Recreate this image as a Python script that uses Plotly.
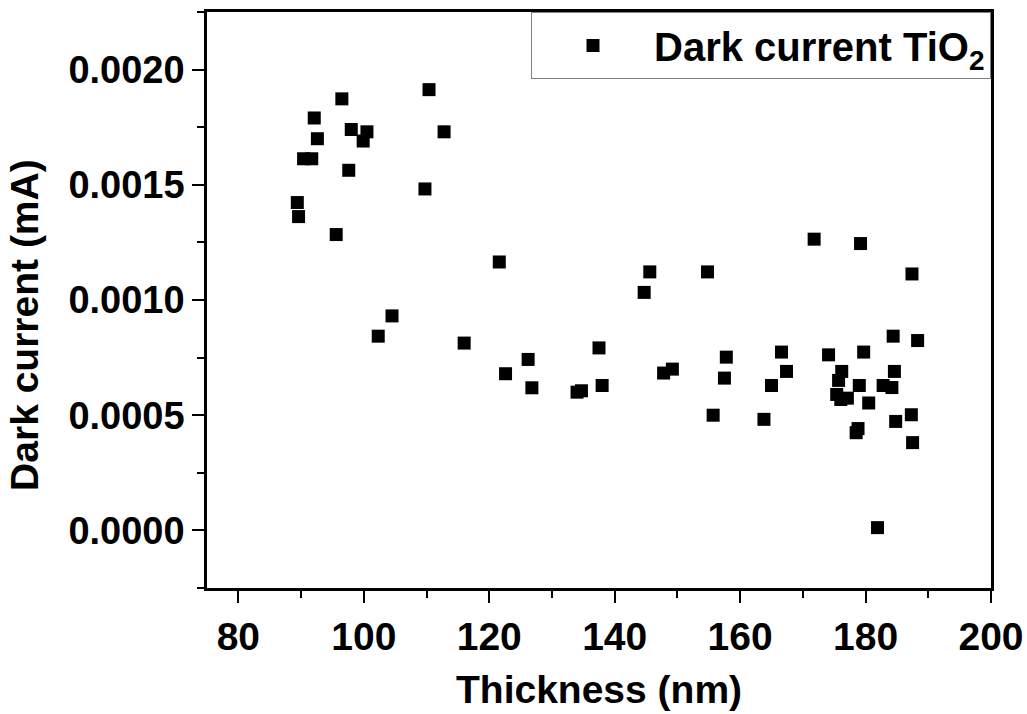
import plotly.graph_objects as go

# Thickness (nm) vs dark current (mA)
thickness = [89.4, 89.6, 90.4, 91.7, 92.1, 92.6, 95.6, 96.5, 97.6, 98.0,
             99.9, 100.5, 102.3, 104.5, 109.75, 110.4, 112.8, 116.0, 121.6, 122.6,
             126.2, 126.8, 134.0, 134.7, 137.5, 138.0, 144.7, 145.6, 147.8, 149.2,
             154.8, 155.7, 157.8, 157.5, 163.8, 165.0, 166.6, 167.4, 171.8, 174.1,
             175.4, 175.7, 176.05, 176.2, 177.1, 178.5, 178.8, 179.0, 179.2, 179.7,
             180.5, 181.9, 182.8, 184.2, 184.4, 184.6, 184.8, 187.3, 187.4, 187.5,
             188.3]
dark_current = [0.001423, 0.001362, 0.001613, 0.001613, 0.00179, 0.0017, 0.001284, 0.001873, 0.001563, 0.00174,
                0.00169, 0.00173, 0.000843, 0.000931, 0.001482, 0.001913, 0.00173, 0.000813, 0.001165, 0.00068,
                0.000742, 0.000619, 0.0006, 0.000606, 0.000792, 0.000629, 0.001033, 0.001122, 0.000683, 0.0007,
                0.001122, 0.0005, 0.000752, 0.000661, 0.000482, 0.000629, 0.000774, 0.00069, 0.001264, 0.000762,
                0.00059, 0.000651, 0.000568, 0.00069, 0.000574, 0.000424, 0.000442, 0.000629, 0.001245, 0.000774,
                0.000553, 0.000012, 0.000629, 0.00062, 0.000843, 0.00069, 0.000473, 0.000502, 0.001113, 0.000381,
                0.000824]

series_name = "Dark current TiO<sub>2</sub>"
x_title = "Thickness (nm)"
y_title = "Dark current (mA)"

FONT = "Liberation Sans, Arial, sans-serif"

fig = go.Figure()

fig.add_trace(go.Scatter(
    x=thickness,
    y=dark_current,
    mode='markers',
    marker=dict(symbol='square', size=13, color='black', line=dict(width=0)),
    name=series_name,
    showlegend=True
))

axis_common = dict(
    showgrid=False,
    zeroline=False,
    showline=True,
    linecolor='black',
    linewidth=2.5,
    mirror=True,
    ticks='outside',
    ticklen=12,
    tickwidth=2,
    tickcolor='black',
    automargin=False,
)

fig.update_xaxes(
    range=[75, 200],
    dtick=20,
    tick0=0,
    tickfont=dict(family=FONT, size=39, color='black', weight='bold'),
    minor=dict(ticks='outside', ticklen=7, tickwidth=2, tickcolor='black', dtick=10, tick0=0),
    **axis_common
)
fig.update_yaxes(
    range=[-0.00025, 0.00225],
    tickvals=[0, 0.0005, 0.001, 0.0015, 0.002],
    tickformat='.4f',
    tickfont=dict(family=FONT, size=38, color='black', weight='bold'),
    minor=dict(ticks='outside', ticklen=7, tickwidth=2, tickcolor='black', dtick=0.00025, tick0=0),
    **axis_common
)

fig.add_annotation(
    text=x_title, xref='paper', yref='paper', x=0.5, y=-0.177,
    xanchor='center', yanchor='middle', showarrow=False,
    font=dict(family=FONT, size=39, color='black', weight='bold')
)
fig.add_annotation(
    text=y_title, xref='paper', yref='paper', x=-0.232, y=0.457,
    xanchor='center', yanchor='middle', showarrow=False, textangle=-90,
    font=dict(family=FONT, size=39, color='black', weight='bold')
)

fig.update_layout(
    width=1027,
    height=714,
    margin=dict(l=207, r=36, t=12, b=126),
    plot_bgcolor='white',
    paper_bgcolor='white',
    legend=dict(
        x=1, y=1, xanchor='right', yanchor='top',
        bgcolor='white', bordercolor='#808080', borderwidth=1,
        font=dict(family=FONT, size=40, color='black', weight='bold'),
        itemwidth=112
    )
)

fig.write_html("out.html", config={'displayModeBar': False},
               post_script="document.body.style.margin='0';")
